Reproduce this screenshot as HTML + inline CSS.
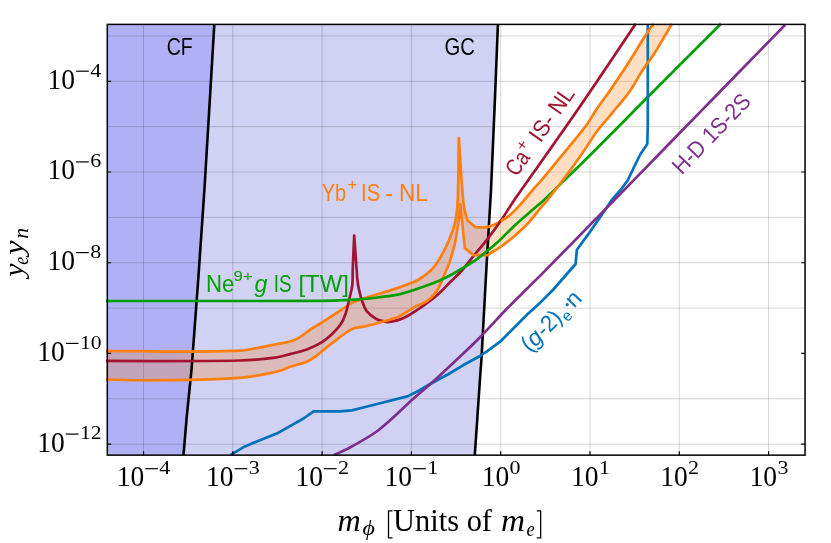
<!DOCTYPE html>
<html><head><meta charset="utf-8"><title>plot</title>
<style>
html,body{margin:0;padding:0;background:#fff;}
svg{display:block;will-change:transform;}
text{font-family:"Liberation Serif",serif;}
.s{font-family:"Liberation Sans",sans-serif;}
</style></head><body>
<svg width="831" height="543" viewBox="0 0 831 543">
<rect width="831" height="543" fill="#fff"/>
<defs><clipPath id="c"><rect x="106.1" y="23.099999999999998" width="698.95" height="432.05"/></clipPath></defs>
<g clip-path="url(#c)">
<polygon points="107.3,24.4 497.9,24.7 494.9,100.0 491.0,190.0 486.3,270.0 481.4,360.0 480.6,370.0 474.8,455.1 107.3,455.1" fill="#d1d1f3"/>
<polygon points="107.3,24.4 214.3,24.7 209.8,100.0 204.4,190.0 198.2,280.0 191.5,370.0 186.8,416.0 183.5,455.1 107.3,455.1" fill="#b0b0f5"/>
<path d="M143.50 24.4V455.15M232.80 24.4V455.15M322.10 24.4V455.15M411.40 24.4V455.15M500.70 24.4V455.15M590.00 24.4V455.15M679.30 24.4V455.15M768.60 24.4V455.15M107.3 444.18H805.05M107.3 398.82H805.05M107.3 308.10H805.05M107.3 262.74H805.05M107.3 217.38H805.05M107.3 172.02H805.05M107.3 126.66H805.05M107.3 81.30H805.05M107.3 35.94H805.05" stroke="#000" stroke-opacity="0.16" stroke-width="1" fill="none"/>
<path d="M105.50 351.00C105.50 351.00 128.50 351.10 140.00 351.20C150.67 351.30 161.33 351.66 172.00 351.60C194.67 351.46 217.35 351.60 240.00 350.60C246.07 350.33 252.02 348.84 258.00 347.80C263.69 346.81 269.34 345.62 275.00 344.50C280.00 343.52 285.08 342.85 290.00 341.50C292.91 340.70 295.79 339.62 298.40 338.10C302.57 335.66 306.18 332.37 310.20 329.70C314.62 326.77 319.24 324.16 323.70 321.30C329.34 317.69 334.86 313.91 340.50 310.30C344.96 307.44 349.20 304.16 354.00 301.90C358.84 299.63 364.11 298.42 369.20 296.80C376.47 294.49 383.84 292.46 391.10 290.10C396.74 288.26 402.34 286.29 407.90 284.20C411.31 282.92 414.90 281.93 418.00 280.00C423.00 276.89 427.85 273.39 432.00 269.20C435.40 265.77 437.95 261.56 440.40 257.40C443.60 251.97 446.42 246.30 448.90 240.50C451.23 235.04 453.36 229.46 454.80 223.70C456.18 218.17 456.75 212.47 457.30 206.80C457.85 201.22 457.98 195.61 458.10 190.00C458.48 172.74 458.80 138.20 458.80 138.20C458.80 138.20 460.99 172.74 462.30 190.00C462.73 195.61 463.07 201.25 464.00 206.80C464.77 211.38 467.40 220.30 467.40 220.30L475.20 227.10C475.20 227.10 482.85 227.72 486.60 227.10C490.05 226.53 493.36 225.15 496.50 223.60C500.63 221.56 504.70 219.27 508.30 216.40C512.61 212.96 516.36 208.86 520.10 204.80C524.24 200.31 527.90 195.41 531.90 190.80C535.13 187.07 538.61 183.56 541.80 179.80C547.64 172.92 553.26 165.86 559.00 158.90C564.59 152.13 570.28 145.43 575.80 138.60C579.81 133.63 583.91 128.72 587.60 123.50C590.66 119.17 593.02 114.39 596.00 110.00C601.19 102.35 606.85 95.02 612.10 87.40C617.85 79.05 623.52 70.63 629.00 62.10C633.62 54.90 637.81 47.42 642.40 40.20C645.95 34.62 653.40 23.70 653.40 23.70L671.90 23.70C671.90 23.70 666.87 32.45 664.30 36.80C660.97 42.45 657.78 48.20 654.20 53.70C650.47 59.44 646.13 64.77 642.40 70.50C637.73 77.67 633.93 85.40 629.00 92.40C624.64 98.60 619.39 104.13 614.60 110.00C612.32 112.79 610.11 115.64 607.80 118.40C604.48 122.37 600.77 126.03 597.70 130.20C592.89 136.72 588.81 143.74 584.20 150.40C578.71 158.34 573.14 166.24 567.40 174.00C560.91 182.77 554.27 191.44 547.50 200.00C545.36 202.71 542.91 205.15 540.70 207.80C536.71 212.59 533.15 217.74 528.90 222.30C524.30 227.23 519.30 231.79 514.20 236.20C509.49 240.27 504.57 244.09 499.50 247.70C495.72 250.40 487.70 255.10 487.70 255.10L473.40 255.10L464.90 248.10C464.90 248.10 463.15 231.83 462.30 223.70C461.62 217.23 460.30 204.30 460.30 204.30C460.30 204.30 459.00 217.25 458.10 223.70C457.16 230.46 456.31 237.25 454.80 243.90C453.24 250.74 451.07 257.43 448.90 264.10C448.23 266.14 447.14 268.02 446.30 270.00C444.87 273.36 443.63 276.79 442.10 280.10C440.26 284.09 438.76 288.32 436.20 291.90C433.66 295.45 430.56 298.68 427.00 301.20C423.71 303.53 419.55 304.30 416.00 306.20C412.20 308.24 408.69 310.77 405.00 313.00C403.19 314.10 401.47 315.41 399.50 316.20C394.54 318.19 389.42 319.77 384.30 321.30C378.18 323.13 372.02 324.82 365.80 326.30C361.34 327.36 356.40 326.85 352.30 328.90C344.93 332.60 338.70 338.24 332.10 343.20C326.36 347.52 321.10 352.46 315.30 356.70C312.65 358.64 309.85 360.48 306.80 361.70C301.36 363.87 295.54 364.92 290.00 366.80C287.40 367.69 285.02 369.18 282.40 370.00C278.00 371.38 273.51 372.45 269.00 373.40C263.40 374.58 257.77 375.64 252.10 376.40C245.39 377.30 238.65 377.94 231.90 378.40C224.61 378.90 217.30 379.15 210.00 379.30C186.67 379.77 163.34 380.21 140.00 380.25C128.50 380.27 105.50 379.50 105.50 379.50Z" fill="#ff7f0e" fill-opacity="0.25"/>
<polyline points="214.3,24.7 209.8,100.0 204.4,190.0 198.2,280.0 191.5,370.0 186.8,416.0 183.5,455.1" fill="none" stroke="#000" stroke-width="2.6"/>
<polyline points="497.9,24.7 494.9,100.0 491.0,190.0 486.3,270.0 481.4,360.0 480.6,370.0 474.8,455.1" fill="none" stroke="#000" stroke-width="2.6"/>
<path d="M105.50 351.00C105.50 351.00 128.50 351.10 140.00 351.20C150.67 351.30 161.33 351.66 172.00 351.60C194.67 351.46 217.35 351.60 240.00 350.60C246.07 350.33 252.02 348.84 258.00 347.80C263.69 346.81 269.34 345.62 275.00 344.50C280.00 343.52 285.08 342.85 290.00 341.50C292.91 340.70 295.79 339.62 298.40 338.10C302.57 335.66 306.18 332.37 310.20 329.70C314.62 326.77 319.24 324.16 323.70 321.30C329.34 317.69 334.86 313.91 340.50 310.30C344.96 307.44 349.20 304.16 354.00 301.90C358.84 299.63 364.11 298.42 369.20 296.80C376.47 294.49 383.84 292.46 391.10 290.10C396.74 288.26 402.34 286.29 407.90 284.20C411.31 282.92 414.90 281.93 418.00 280.00C423.00 276.89 427.85 273.39 432.00 269.20C435.40 265.77 437.95 261.56 440.40 257.40C443.60 251.97 446.42 246.30 448.90 240.50C451.23 235.04 453.36 229.46 454.80 223.70C456.18 218.17 456.75 212.47 457.30 206.80C457.85 201.22 457.98 195.61 458.10 190.00C458.48 172.74 458.80 138.20 458.80 138.20C458.80 138.20 460.99 172.74 462.30 190.00C462.73 195.61 463.07 201.25 464.00 206.80C464.77 211.38 467.40 220.30 467.40 220.30L475.20 227.10C475.20 227.10 482.85 227.72 486.60 227.10C490.05 226.53 493.28 224.98 496.50 223.60C498.01 222.95 500.70 221.04 500.70 221.04" fill="none" stroke="#ff7f0e" stroke-width="2.7" stroke-linejoin="round"/>
<path d="M105.50 360.90C105.50 360.90 195.17 361.37 240.00 360.50C251.70 360.27 263.39 359.09 275.00 357.60C280.09 356.95 285.03 355.38 290.00 354.10C295.63 352.65 301.33 351.37 306.80 349.40C311.46 347.72 316.08 345.79 320.30 343.20C324.57 340.58 328.42 337.29 332.10 333.90C335.17 331.07 338.18 328.07 340.50 324.60C342.73 321.26 344.28 317.49 345.60 313.70C347.13 309.32 347.94 304.72 349.00 300.20C350.18 295.18 351.66 290.21 352.30 285.10C352.90 280.27 352.51 275.36 352.70 270.50C353.15 258.83 354.20 235.50 354.20 235.50C354.20 235.50 355.86 258.83 356.70 270.50C356.93 273.67 357.01 276.85 357.40 280.00C357.81 283.39 358.34 286.77 359.10 290.10C360.01 294.08 361.02 298.06 362.40 301.90C363.56 305.11 364.56 308.54 366.70 311.20C369.18 314.28 372.39 316.88 375.90 318.70C379.53 320.59 387.70 322.10 387.70 322.10C387.70 322.10 395.67 320.82 399.50 319.60C402.61 318.61 405.56 317.11 408.40 315.50C412.47 313.20 416.36 310.58 420.20 307.90C425.63 304.11 431.18 300.42 436.20 296.10C441.31 291.70 445.73 286.57 450.50 281.80C454.43 277.87 458.58 274.14 462.30 270.00C465.90 265.99 469.00 261.58 472.40 257.40C477.44 251.21 482.72 245.21 487.60 238.90C492.29 232.84 496.76 226.62 501.10 220.30C505.67 213.65 509.82 206.72 514.30 200.00C516.56 196.61 518.96 193.33 521.30 190.00C540.03 163.33 559.03 136.85 577.50 110.00C597.16 81.41 635.70 23.70 635.70 23.70" fill="none" stroke="#a2142f" stroke-width="2.7" stroke-linejoin="round"/>
<path d="M105.50 379.50C105.50 379.50 128.50 380.27 140.00 380.25C163.34 380.21 186.67 379.77 210.00 379.30C217.30 379.15 224.61 378.90 231.90 378.40C238.65 377.94 245.39 377.30 252.10 376.40C257.77 375.64 263.40 374.58 269.00 373.40C273.51 372.45 278.00 371.38 282.40 370.00C285.02 369.18 287.40 367.69 290.00 366.80C295.54 364.92 301.36 363.87 306.80 361.70C309.85 360.48 312.65 358.64 315.30 356.70C321.10 352.46 326.36 347.52 332.10 343.20C338.70 338.24 344.93 332.60 352.30 328.90C356.40 326.85 361.34 327.36 365.80 326.30C372.02 324.82 378.18 323.13 384.30 321.30C389.42 319.77 394.54 318.19 399.50 316.20C401.47 315.41 403.19 314.10 405.00 313.00C408.69 310.77 412.20 308.24 416.00 306.20C419.55 304.30 423.71 303.53 427.00 301.20C430.56 298.68 433.66 295.45 436.20 291.90C438.76 288.32 440.26 284.09 442.10 280.10C443.63 276.79 444.87 273.36 446.30 270.00C447.14 268.02 448.23 266.14 448.90 264.10C451.07 257.43 453.24 250.74 454.80 243.90C456.31 237.25 457.16 230.46 458.10 223.70C459.00 217.25 460.30 204.30 460.30 204.30C460.30 204.30 461.62 217.23 462.30 223.70C463.15 231.83 464.90 248.10 464.90 248.10L473.40 255.10L487.70 255.10C487.70 255.10 495.59 250.21 499.50 247.70C499.93 247.43 500.70 246.76 500.70 246.76" fill="none" stroke="#ff7f0e" stroke-width="2.7" stroke-linejoin="round"/>
<path d="M105.50 301.00C105.50 301.00 248.50 301.08 320.00 300.90C326.40 300.88 332.80 300.65 339.20 300.40C345.64 300.15 352.08 299.88 358.50 299.40C364.91 298.92 371.31 298.21 377.70 297.50C382.48 296.97 387.25 296.42 392.00 295.70C394.69 295.29 397.35 294.69 400.00 294.10C401.38 293.79 402.74 293.40 404.10 293.00C408.11 291.80 412.12 290.61 416.10 289.30C420.13 287.97 424.13 286.58 428.10 285.10C432.16 283.58 436.24 282.07 440.20 280.30C444.28 278.47 448.27 276.44 452.20 274.30C456.28 272.07 460.24 269.63 464.20 267.20C468.14 264.79 472.14 262.47 475.90 259.80C479.95 256.93 483.77 253.75 487.60 250.60C491.64 247.28 495.67 243.95 499.50 240.40C504.54 235.72 509.16 230.59 514.20 225.90C518.97 221.46 523.97 217.26 528.90 213.00C532.57 209.83 536.32 206.76 540.00 203.60C541.29 202.49 542.57 201.37 543.80 200.20C551.71 192.64 559.56 185.03 567.40 177.40C575.29 169.73 583.19 162.05 591.00 154.30C600.02 145.35 608.96 136.32 617.90 127.30C623.59 121.56 629.20 115.73 634.90 110.00C663.56 81.20 721.00 23.70 721.00 23.70" fill="none" stroke="#00a000" stroke-width="2.7" stroke-linejoin="round"/>
<polyline points="230.2,455.1 244.5,446.7 260.5,439.9 277.4,433.2 290.9,425.6 304.3,418.0 313.6,411.3 327.9,411.3 340.0,411.3 351.8,410.4 365.3,407.0 382.1,402.7 407.4,396.4 419.2,390.5 431.0,383.5 447.8,374.5 463.0,365.3 480.0,356.0 487.6,350.9 501.1,340.8 514.6,327.3 528.0,313.8 540.0,302.9 552.9,290.0 563.8,277.5 575.6,264.0 576.9,249.7 587.4,235.4 599.2,218.5 611.8,200.0 621.3,189.2 627.9,180.0 633.8,167.5 640.5,154.0 647.3,143.9 647.8,123.7 647.8,24.7" fill="none" stroke="#0072bd" stroke-width="2.7" stroke-linejoin="round"/>
<path d="M500.70 221.04C500.70 221.04 506.02 218.30 508.30 216.40C512.53 212.86 516.36 208.86 520.10 204.80C524.24 200.31 527.90 195.41 531.90 190.80C535.13 187.07 538.61 183.56 541.80 179.80C547.64 172.92 553.26 165.86 559.00 158.90C564.59 152.13 570.28 145.43 575.80 138.60C579.81 133.63 583.91 128.72 587.60 123.50C590.66 119.17 593.02 114.39 596.00 110.00C601.19 102.35 606.85 95.02 612.10 87.40C617.85 79.05 623.52 70.63 629.00 62.10C633.62 54.90 637.81 47.42 642.40 40.20C645.95 34.62 653.40 23.70 653.40 23.70" fill="none" stroke="#ff7f0e" stroke-width="2.7" stroke-linejoin="round"/>
<path d="M500.70 246.76C500.70 246.76 509.88 239.94 514.20 236.20C519.29 231.78 524.30 227.23 528.90 222.30C533.15 217.74 536.71 212.59 540.70 207.80C542.91 205.15 545.36 202.71 547.50 200.00C554.27 191.44 560.91 182.77 567.40 174.00C573.14 166.24 578.71 158.34 584.20 150.40C588.81 143.74 592.89 136.72 597.70 130.20C600.77 126.03 604.48 122.37 607.80 118.40C610.11 115.64 612.32 112.79 614.60 110.00C619.39 104.13 624.64 98.60 629.00 92.40C633.93 85.40 637.73 77.67 642.40 70.50C646.13 64.77 650.47 59.44 654.20 53.70C657.78 48.20 660.97 42.45 664.30 36.80C666.87 32.45 671.90 23.70 671.90 23.70" fill="none" stroke="#ff7f0e" stroke-width="2.7" stroke-linejoin="round"/>
<path d="M333.80 455.10C333.80 455.10 338.89 452.88 341.40 451.70C344.29 450.35 347.24 449.10 350.00 447.50C359.69 441.87 369.82 436.84 378.70 430.00C391.28 420.30 402.23 408.65 414.10 398.10C419.66 393.15 425.48 388.49 431.00 383.50C440.08 375.29 448.98 366.88 457.90 358.50C464.41 352.38 471.03 346.37 477.30 340.00C487.67 329.46 497.51 318.42 507.80 307.80C513.98 301.42 520.39 295.25 526.70 289.00C531.12 284.62 535.63 280.33 540.00 275.90C565.40 250.13 590.69 224.25 616.00 198.40C621.95 192.32 627.86 186.20 633.80 180.10C656.43 156.86 679.06 133.63 701.70 110.40C708.82 103.09 715.98 95.81 723.10 88.50C735.41 75.87 747.69 63.23 760.00 50.60C768.39 41.99 785.20 24.80 785.20 24.80" fill="none" stroke="#7e2f8e" stroke-width="2.7" stroke-linejoin="round"/>
</g>
<path d="M143.50 455.15v-3.8M232.80 455.15v-3.8M322.10 455.15v-3.8M411.40 455.15v-3.8M500.70 455.15v-3.8M590.00 455.15v-3.8M679.30 455.15v-3.8M768.60 455.15v-3.8M107.3 444.18h3.8M805.05 444.18h-3.8M107.3 353.46h3.8M805.05 353.46h-3.8M107.3 262.74h3.8M805.05 262.74h-3.8M107.3 172.02h3.8M805.05 172.02h-3.8M107.3 81.30h3.8M805.05 81.30h-3.8" stroke="#000" stroke-width="1.2" fill="none"/>
<rect x="107.3" y="24.4" width="697.75" height="430.75" fill="none" stroke="#000" stroke-width="1.5"/>
<text x="116.8" y="486.2" font-size="29.5" textLength="27.5" lengthAdjust="spacingAndGlyphs">10</text><path d="M145.2 468.7h12.7" stroke="#000" stroke-width="1.2"/><text x="159.3" y="474.0" font-size="19.5" textLength="11" lengthAdjust="spacingAndGlyphs">4</text>
<text x="206.1" y="486.2" font-size="29.5" textLength="27.5" lengthAdjust="spacingAndGlyphs">10</text><path d="M234.6 468.7h12.7" stroke="#000" stroke-width="1.2"/><text x="248.7" y="474.0" font-size="19.5" textLength="11" lengthAdjust="spacingAndGlyphs">3</text>
<text x="295.4" y="486.2" font-size="29.5" textLength="27.5" lengthAdjust="spacingAndGlyphs">10</text><path d="M323.9 468.7h12.7" stroke="#000" stroke-width="1.2"/><text x="337.9" y="474.0" font-size="19.5" textLength="11" lengthAdjust="spacingAndGlyphs">2</text>
<text x="384.6" y="486.2" font-size="29.5" textLength="27.5" lengthAdjust="spacingAndGlyphs">10</text><path d="M413.1 468.7h12.7" stroke="#000" stroke-width="1.2"/><text x="427.2" y="474.0" font-size="19.5" textLength="11" lengthAdjust="spacingAndGlyphs">1</text>
<text x="481.8" y="486.2" font-size="29.5" textLength="27.5" lengthAdjust="spacingAndGlyphs">10</text><text x="509.6" y="474.0" font-size="19.5" textLength="11" lengthAdjust="spacingAndGlyphs">0</text>
<text x="571.0" y="486.2" font-size="29.5" textLength="27.5" lengthAdjust="spacingAndGlyphs">10</text><text x="598.9" y="474.0" font-size="19.5" textLength="11" lengthAdjust="spacingAndGlyphs">1</text>
<text x="660.3" y="486.2" font-size="29.5" textLength="27.5" lengthAdjust="spacingAndGlyphs">10</text><text x="688.1" y="474.0" font-size="19.5" textLength="11" lengthAdjust="spacingAndGlyphs">2</text>
<text x="749.6" y="486.2" font-size="29.5" textLength="27.5" lengthAdjust="spacingAndGlyphs">10</text><text x="777.5" y="474.0" font-size="19.5" textLength="11" lengthAdjust="spacingAndGlyphs">3</text>
<text x="37.3" y="451.6" font-size="29.5" textLength="27.5" lengthAdjust="spacingAndGlyphs">10</text><path d="M65.8 434.1h12.7" stroke="#000" stroke-width="1.2"/><text x="79.9" y="439.4" font-size="19.5" textLength="21.6" lengthAdjust="spacingAndGlyphs">12</text>
<text x="37.3" y="360.9" font-size="29.5" textLength="27.5" lengthAdjust="spacingAndGlyphs">10</text><path d="M65.8 343.4h12.7" stroke="#000" stroke-width="1.2"/><text x="79.9" y="348.7" font-size="19.5" textLength="21.6" lengthAdjust="spacingAndGlyphs">10</text>
<text x="47.6" y="270.1" font-size="29.5" textLength="27.5" lengthAdjust="spacingAndGlyphs">10</text><path d="M76.1 252.6h12.7" stroke="#000" stroke-width="1.2"/><text x="90.2" y="257.9" font-size="19.5" textLength="11" lengthAdjust="spacingAndGlyphs">8</text>
<text x="47.6" y="179.4" font-size="29.5" textLength="27.5" lengthAdjust="spacingAndGlyphs">10</text><path d="M76.1 161.9h12.7" stroke="#000" stroke-width="1.2"/><text x="90.2" y="167.2" font-size="19.5" textLength="11" lengthAdjust="spacingAndGlyphs">6</text>
<text x="47.6" y="88.7" font-size="29.5" textLength="27.5" lengthAdjust="spacingAndGlyphs">10</text><path d="M76.1 71.2h12.7" stroke="#000" stroke-width="1.2"/><text x="90.2" y="76.5" font-size="19.5" textLength="11" lengthAdjust="spacingAndGlyphs">4</text>
<text class="s" x="166.7" y="54.6" font-size="23.2" fill="#000" textLength="26" lengthAdjust="spacingAndGlyphs">CF</text>
<text class="s" x="444.6" y="54.6" font-size="23.2" fill="#000" textLength="30.3" lengthAdjust="spacingAndGlyphs">GC</text>
<text class="s" x="321.7" y="200.9" font-size="23.2" fill="#ff7f0e" textLength="24.5" lengthAdjust="spacingAndGlyphs">Yb</text>
<text class="s" x="347.6" y="190.0" font-size="16" fill="#ff7f0e" textLength="9.6" lengthAdjust="spacingAndGlyphs">+</text>
<text class="s" x="361.1" y="200.9" font-size="23.2" fill="#ff7f0e" textLength="19.2" lengthAdjust="spacingAndGlyphs">IS</text>
<text class="s" x="385.2" y="200.9" font-size="23.2" fill="#ff7f0e" textLength="7.8" lengthAdjust="spacingAndGlyphs">-</text>
<text class="s" x="399.0" y="200.9" font-size="23.2" fill="#ff7f0e" textLength="29.0" lengthAdjust="spacingAndGlyphs">NL</text>
<text class="s" x="205.9" y="292.3" font-size="23.2" fill="#00a000" textLength="28.4" lengthAdjust="spacingAndGlyphs">Ne</text>
<text class="s" x="233.6" y="280.6" font-size="15" fill="#00a000" textLength="19.2" lengthAdjust="spacingAndGlyphs">9+</text>
<text class="s" x="254.4" y="292.3" font-size="23.2" fill="#00a000" textLength="13.0" lengthAdjust="spacingAndGlyphs" font-style="italic">g</text>
<text class="s" x="273.8" y="292.3" font-size="23.2" fill="#00a000" textLength="17.9" lengthAdjust="spacingAndGlyphs">IS</text>
<text class="s" x="298.4" y="292.3" font-size="23.2" fill="#00a000" textLength="50.6" lengthAdjust="spacingAndGlyphs">[TW]</text>
<g transform="translate(513.7,181.9) rotate(-55)"><text class="s" x="5.3" y="0" font-size="23.2" fill="#a2142f" textLength="24.5" lengthAdjust="spacingAndGlyphs">Ca</text><text class="s" x="30.2" y="-9.2" font-size="16" fill="#a2142f" textLength="9.6" lengthAdjust="spacingAndGlyphs">+</text><text class="s" x="46.9" y="0" font-size="23.2" fill="#a2142f" textLength="60.9" lengthAdjust="spacingAndGlyphs">IS- NL</text></g>
<g transform="translate(681.7,175.6) rotate(-46)"><text class="s" x="0" y="0" font-size="23.2" fill="#7e2f8e" textLength="101.5" lengthAdjust="spacingAndGlyphs">H-D 1S-2S</text></g>
<g transform="translate(530.9,352.0) rotate(-45)"><text class="s" x="-1.5" y="0" font-size="23.2" fill="#0072bd">(</text><text class="s" x="6.0" y="0" font-size="23.2" fill="#0072bd" font-style="italic">g</text><text class="s" x="19.5" y="0" font-size="23.2" fill="#0072bd" textLength="26.5" lengthAdjust="spacingAndGlyphs">-2)</text><text class="s" x="46.8" y="5.0" font-size="15.5" fill="#0072bd">e</text><circle cx="59.2" cy="-7.8" r="1.6" fill="#0072bd"/><text class="s" x="61.0" y="0" font-size="23.2" fill="#0072bd">n</text></g>
<text x="337.6" y="531.3" font-size="30.5" textLength="23.2" lengthAdjust="spacingAndGlyphs" font-style="italic">m</text>
<text x="362.4" y="534.8" font-size="22" textLength="12.4" lengthAdjust="spacingAndGlyphs" font-style="italic">ϕ</text>
<path d="M392.5 510.9H388.5V537.9H392.5M536.8 510.9H540.7V537.9H536.8" fill="none" stroke="#000" stroke-width="1.25"/>
<text x="393.1" y="531.3" font-size="30.5" textLength="98.9" lengthAdjust="spacingAndGlyphs">Units of</text>
<text x="501.0" y="531.3" font-size="30.5" textLength="24.0" lengthAdjust="spacingAndGlyphs" font-style="italic">m</text>
<text x="526.6" y="535.9" font-size="21" textLength="8.3" lengthAdjust="spacingAndGlyphs" font-style="italic">e</text>
<g transform="translate(22.8,278.3) rotate(-90)"><text x="1.5" y="0" font-size="26.5" textLength="13.2" lengthAdjust="spacingAndGlyphs" font-style="italic">y</text><text x="13.6" y="4.9" font-size="21" textLength="8.0" lengthAdjust="spacingAndGlyphs" font-style="italic">e</text><text x="23.6" y="0" font-size="26.5" textLength="14.2" lengthAdjust="spacingAndGlyphs" font-style="italic">y</text><text x="39.6" y="4.9" font-size="21" textLength="10.8" lengthAdjust="spacingAndGlyphs" font-style="italic">n</text></g>
</svg></body></html>
